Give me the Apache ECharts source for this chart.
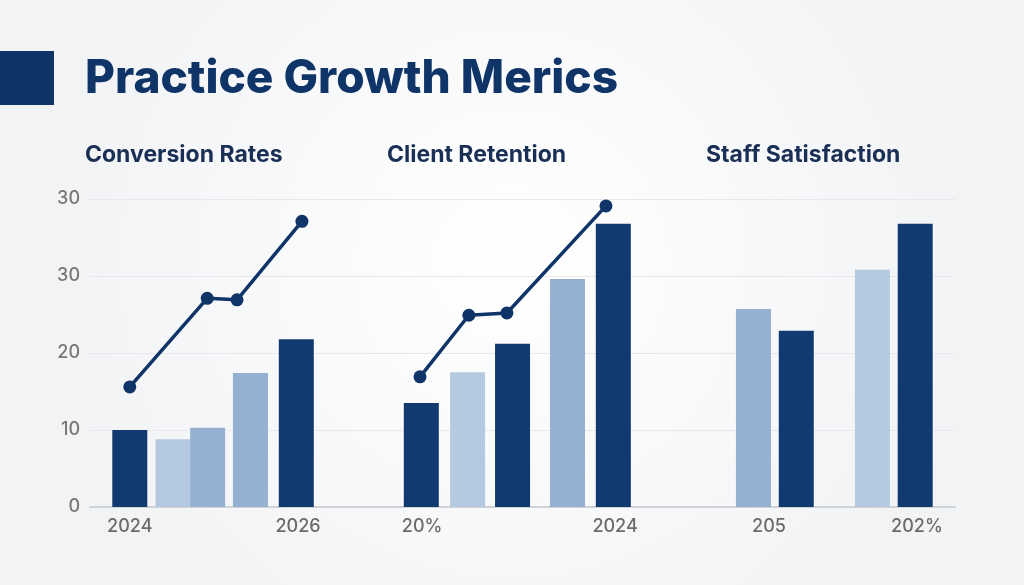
<!DOCTYPE html>
<html>
<head>
<meta charset="utf-8">
<title>Practice Growth Merics</title>
<script src="https://cdn.jsdelivr.net/npm/echarts@6/dist/echarts.min.js"></script>
<style>
  html, body { margin: 0; padding: 0; }
  #main { width: 1024px; height: 585px; }
</style>
</head>
<body>
<div id="main"></div>
<script>
// panel headings
var panelTitles = ['Conversion Rates', 'Client Retention', 'Staff Satisfaction'];

// y tick labels as printed on the picture (top one really says 30)
var yTickLabels = ['0', '10', '20', '30', '30'];

// x labels and where they sit on the shared x scale
var xLabelPos = [0.92, 4.81, 7.68, 12.14, 15.70, 19.12];
var xLabelText = ['2024', '2026', '20%', '2024', '205', '202%'];

// bars: position, value, tone
var barPos = [0.92, 1.92, 2.72, 3.71, 4.77, 7.66, 8.73, 9.77, 11.04, 12.10, 15.34, 16.33, 18.09, 19.08];
var barValues = [10.0, 8.8, 10.3, 17.4, 21.8, 13.5, 17.5, 21.2, 29.6, 36.8, 25.7, 22.9, 30.8, 36.8];
var barTone = ['dark', 'light', 'mid', 'mid', 'dark', 'dark', 'light', 'dark', 'mid', 'dark', 'mid', 'dark', 'light', 'dark'];

// trend lines (conversion rates, client retention)
var conversionPos = [0.92, 2.71, 3.40, 4.90];
var conversionTrend = [15.6, 27.1, 26.9, 37.1];
var retentionPos = [7.63, 8.76, 9.64, 11.93];
var retentionTrend = [16.9, 24.9, 25.2, 39.1];

var toneColors = { dark: '#113a70', mid: '#94b1d1', light: '#b5cae1' };
var navy = '#0f3468';

var chart = echarts.init(document.getElementById('main'), null, { renderer: 'canvas' });

function pairs(xs, ys) {
  return xs.map(function (x, i) { return [x, ys[i]]; });
}

var barData = barPos.map(function (x, i) {
  return { value: [x, barValues[i]], itemStyle: { color: toneColors[barTone[i]] } };
});

var titleX = [80, 382, 701];
var titles = [{
  text: 'Practice Growth Merics',
  left: 80, top: 51,
  textStyle: { fontFamily: 'Inter', fontWeight: 800, fontSize: 46, color: navy }
}];
panelTitles.forEach(function (t, i) {
  titles.push({
    text: t, left: titleX[i], top: 139,
    textStyle: { fontFamily: 'Inter', fontWeight: 700, fontSize: 23, color: '#1a2f55' }
  });
});

var option = {
  backgroundColor: {
    type: 'radial', x: 0.5, y: 0.45, r: 0.8,
    colorStops: [{ offset: 0, color: '#ffffff' }, { offset: 1, color: '#f2f3f5' }]
  },
  animation: false,
  title: titles,
  graphic: [{
    type: 'rect',
    shape: { x: 0, y: 51, width: 54, height: 54 },
    style: { fill: navy }
  }],
  grid: { left: 90, right: 69, top: 199, bottom: 78 },
  xAxis: {
    type: 'value', min: 0, max: 20,
    splitLine: { show: false },
    axisTick: { show: false },
    axisLine: { lineStyle: { color: '#cfd3d8', width: 2 } },
    axisLabel: {
      customValues: xLabelPos,
      margin: 11,
      fontFamily: 'Inter', fontSize: 18, fontWeight: 500, color: '#6b6b6b',
      formatter: function (v) {
        var i = xLabelPos.indexOf(v);
        return i >= 0 ? xLabelText[i] : '';
      }
    }
  },
  yAxis: {
    type: 'value', min: 0, max: 40, interval: 10,
    axisLine: { show: false },
    axisTick: { show: false },
    splitLine: { lineStyle: { color: '#e6e8eb', width: 1 } },
    axisLabel: {
      margin: 10,
      fontFamily: 'Inter', fontSize: 18, fontWeight: 500, color: '#777777',
      formatter: function (v) { return yTickLabels[Math.round(v / 10)]; }
    }
  },
  series: [{
    type: 'bar',
    barWidth: 35,
    data: barData
  }, {
    type: 'line',
    data: pairs(conversionPos, conversionTrend),
    symbol: 'circle', symbolSize: 13,
    lineStyle: { color: navy, width: 3.5 },
    itemStyle: { color: navy }
  }, {
    type: 'line',
    data: pairs(retentionPos, retentionTrend),
    symbol: 'circle', symbolSize: 13,
    lineStyle: { color: navy, width: 3.5 },
    itemStyle: { color: navy }
  }]
};

chart.setOption(option);
</script>
</body>
</html>
